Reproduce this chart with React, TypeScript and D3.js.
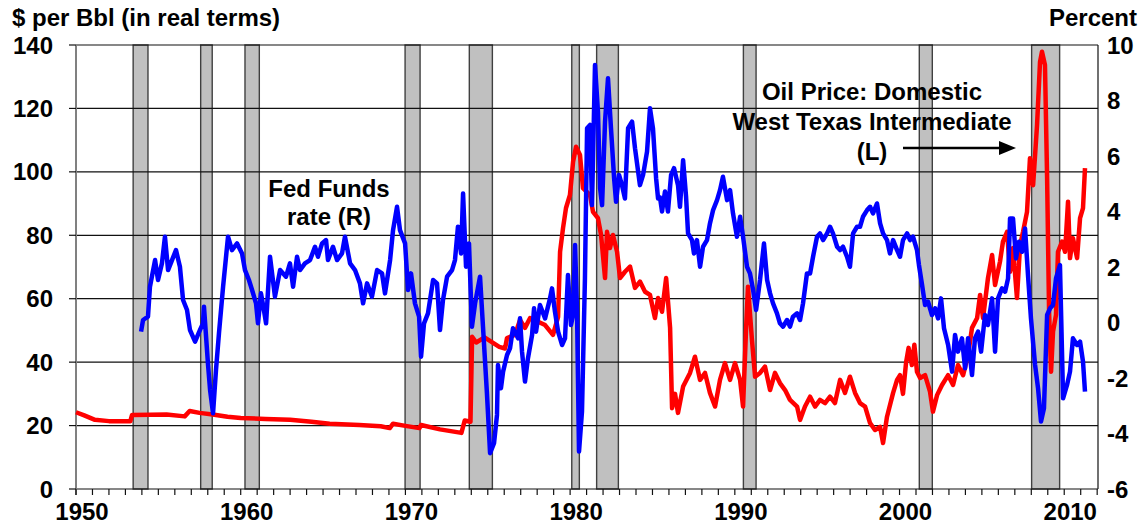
import React from 'react';
import * as d3 from 'd3';

// Recession periods (shaded bands), decimal years
const recessions: [number, number][] = [
  [1953.47, 1954.37], [1957.57, 1958.27], [1960.26, 1961.13], [1969.98, 1970.89],
  [1973.88, 1975.28], [1980.1, 1980.56], [1981.61, 1982.93], [1990.52, 1991.29],
  [2001.2, 2001.99], [2008.02, 2009.72],
];

// Oil price: Domestic West Texas Intermediate, $ per Bbl in real terms (left axis)
const oilPrice: [number, number][] = [
  [1950.0, 24.2], [1950.5, 23.2], [1951.15, 21.8], [1952.0, 21.4], [1953.3, 21.4], [1953.4, 23.3],
  [1954.5, 23.4], [1955.5, 23.5], [1956.6, 22.9], [1956.9, 24.6], [1957.5, 24.0], [1958.3, 23.5],
  [1959.2, 22.8], [1960.0, 22.4], [1961.5, 22.1], [1963.0, 21.8], [1964.3, 21.2], [1965.4, 20.6],
  [1967.2, 20.2], [1968.5, 19.8], [1969.05, 19.2], [1969.25, 20.6], [1970.0, 19.9], [1970.85, 19.2],
  [1970.95, 20.2], [1972.1, 18.8], [1973.4, 17.7], [1973.6, 21.6], [1973.95, 21.2], [1974.05, 48.0],
  [1974.3, 46.2], [1974.8, 47.8], [1975.7, 44.8], [1976.05, 44.3], [1976.17, 47.6], [1976.65, 48.6],
  [1976.96, 53.3], [1977.26, 50.8], [1977.57, 53.9], [1978.48, 51.7], [1978.96, 48.6], [1979.27, 54.3],
  [1979.39, 74.8], [1979.57, 82.3], [1979.75, 88.6], [1979.99, 92.7], [1980.18, 103.2], [1980.36, 107.9],
  [1980.6, 105.3], [1980.78, 94.9], [1981.21, 92.7], [1981.39, 87.4], [1981.69, 85.4], [1981.88, 80.1],
  [1982.12, 66.5], [1982.24, 81.1], [1982.42, 76.0], [1982.6, 80.1], [1982.85, 74.8], [1983.03, 66.5],
  [1983.33, 68.5], [1983.64, 70.1], [1983.94, 63.4], [1984.24, 65.4], [1984.55, 62.2], [1984.85, 61.2],
  [1985.15, 53.9], [1985.34, 60.2], [1985.58, 55.9], [1985.83, 66.5], [1986.07, 50.8], [1986.19, 25.5],
  [1986.37, 30.0], [1986.55, 24.0], [1986.86, 32.3], [1987.28, 36.6], [1987.58, 41.7], [1987.89, 34.4],
  [1988.19, 36.6], [1988.49, 30.3], [1988.8, 26.0], [1989.1, 34.4], [1989.4, 39.7], [1989.71, 34.4],
  [1990.01, 39.7], [1990.32, 34.4], [1990.5, 26.0], [1990.68, 50.1], [1990.8, 63.8], [1991.04, 47.0],
  [1991.23, 35.4], [1991.53, 36.6], [1991.83, 38.6], [1992.14, 31.2], [1992.44, 36.6], [1992.74, 33.4],
  [1993.05, 31.2], [1993.35, 28.1], [1993.78, 26.0], [1993.96, 21.8], [1994.26, 26.0], [1994.57, 29.1],
  [1994.87, 26.0], [1995.17, 28.1], [1995.48, 27.1], [1995.78, 29.1], [1996.08, 27.1], [1996.39, 34.4],
  [1996.69, 30.3], [1996.99, 35.4], [1997.3, 30.3], [1997.6, 27.1], [1997.91, 26.0], [1998.21, 20.8],
  [1998.51, 18.6], [1998.82, 19.6], [1999.0, 14.5], [1999.24, 22.8], [1999.61, 30.3], [1999.85, 34.4],
  [2000.03, 35.9], [2000.21, 30.0], [2000.4, 40.0], [2000.55, 44.5], [2000.75, 39.1], [2000.9, 45.5],
  [2001.06, 37.0], [2001.25, 35.0], [2001.55, 35.9], [2001.85, 30.7], [2002.03, 24.4], [2002.28, 29.6],
  [2002.58, 32.8], [2002.95, 35.9], [2003.25, 32.8], [2003.55, 39.1], [2003.86, 35.9], [2004.16, 42.2],
  [2004.4, 50.8], [2004.71, 53.9], [2004.89, 61.2], [2005.07, 53.9], [2005.37, 66.5], [2005.62, 73.8],
  [2005.8, 64.3], [2006.1, 71.7], [2006.28, 78.0], [2006.53, 81.1], [2006.71, 68.5], [2006.89, 76.0],
  [2007.13, 60.2], [2007.32, 76.9], [2007.5, 81.1], [2007.74, 87.4], [2007.92, 104.3], [2008.11, 95.8],
  [2008.35, 114.8], [2008.53, 134.7], [2008.65, 137.9], [2008.83, 133.7], [2008.96, 98.0], [2009.08, 55.9],
  [2009.2, 37.0], [2009.32, 49.6], [2009.5, 54.9], [2009.62, 74.8], [2009.87, 78.0], [2010.05, 74.8],
  [2010.23, 90.6], [2010.35, 72.8], [2010.53, 79.1], [2010.78, 72.8], [2010.96, 85.4], [2011.14, 88.6],
  [2011.26, 101.2],
];

// Fed Funds rate, percent (right axis)
const fedFunds: [number, number][] = [
  [1953.95, -0.33], [1954.07, 0.09], [1954.37, 0.21], [1954.49, 1.29], [1954.8, 2.25], [1954.98, 1.53],
  [1955.22, 2.14], [1955.4, 3.09], [1955.59, 1.89], [1955.83, 2.25], [1956.07, 2.61], [1956.31, 2.01],
  [1956.5, 0.81], [1956.74, 0.45], [1956.92, -0.27], [1957.23, -0.69], [1957.53, -0.27], [1957.71, -0.03],
  [1957.77, 0.57], [1958.01, -1.47], [1958.14, -2.43], [1958.32, -3.27], [1958.5, -1.71], [1958.68, -0.39],
  [1958.93, 1.29], [1959.23, 3.09], [1959.47, 2.61], [1959.78, 2.85], [1960.08, 2.49], [1960.26, 1.89],
  [1960.5, 1.53], [1960.69, 1.17], [1960.93, 0.69], [1961.05, -0.03], [1961.23, 1.05], [1961.41, 0.45],
  [1961.54, -0.03], [1961.78, 2.37], [1962.08, 0.93], [1962.39, 1.89], [1962.75, 1.65], [1962.99, 2.13],
  [1963.18, 1.29], [1963.42, 2.37], [1963.6, 1.89], [1963.9, 2.13], [1964.21, 2.25], [1964.51, 2.73],
  [1964.69, 2.37], [1964.94, 2.85], [1965.18, 2.97], [1965.3, 2.25], [1965.6, 2.73], [1965.85, 2.25],
  [1966.15, 2.49], [1966.33, 3.09], [1966.64, 2.13], [1966.94, 1.89], [1967.24, 1.41], [1967.43, 0.69],
  [1967.67, 1.41], [1967.97, 0.93], [1968.28, 1.89], [1968.58, 1.77], [1968.76, 1.05], [1969.07, 2.25],
  [1969.25, 3.33], [1969.49, 4.17], [1969.67, 3.33], [1969.98, 2.85], [1970.16, 1.17], [1970.34, 1.77],
  [1970.58, 0.69], [1970.83, 0.21], [1970.95, -1.23], [1971.13, -0.03], [1971.37, 0.33], [1971.68, 1.53],
  [1971.92, 1.41], [1972.1, -0.27], [1972.28, 0.81], [1972.53, 1.65], [1972.83, 1.89], [1973.01, 2.25],
  [1973.19, 3.45], [1973.38, 2.49], [1973.5, 4.65], [1973.68, 2.01], [1973.86, 2.85], [1974.04, -0.15],
  [1974.23, 0.69], [1974.53, 1.65], [1974.71, -0.15], [1974.95, -2.55], [1975.14, -4.71], [1975.38, -4.35],
  [1975.56, -3.33], [1975.62, -1.53], [1975.8, -2.37], [1975.93, -1.77], [1976.17, -1.17], [1976.35, -0.93],
  [1976.53, -0.21], [1976.84, -0.57], [1976.96, 0.15], [1977.08, -1.05], [1977.26, -2.13], [1977.44, -1.29],
  [1977.69, -0.45], [1977.81, 0.51], [1977.93, -0.33], [1978.17, 0.63], [1978.48, 0.15], [1978.78, 0.87],
  [1978.9, 1.23], [1979.08, 0.39], [1979.27, -0.33], [1979.51, -0.81], [1979.69, -0.57], [1979.87, 1.71],
  [1980.05, -0.09], [1980.18, 0.27], [1980.3, 2.79], [1980.42, 0.39], [1980.54, -4.65], [1980.72, -3.21],
  [1980.9, 1.59], [1981.03, 7.0], [1981.21, 7.12], [1981.33, 4.23], [1981.51, 9.28], [1981.69, 7.6],
  [1981.82, 4.84], [1981.94, 4.23], [1982.12, 7.24], [1982.3, 8.8], [1982.48, 7.0], [1982.67, 5.2],
  [1982.79, 4.35], [1982.97, 5.32], [1983.15, 4.95], [1983.33, 4.47], [1983.52, 7.0], [1983.76, 7.24],
  [1983.94, 6.28], [1984.24, 4.95], [1984.43, 5.32], [1984.67, 6.16], [1984.85, 7.72], [1985.03, 7.0],
  [1985.22, 5.2], [1985.34, 4.47], [1985.46, 4.5], [1985.58, 4.0], [1985.76, 4.72], [1985.94, 4.0],
  [1986.13, 5.32], [1986.31, 5.56], [1986.55, 4.95], [1986.67, 4.17], [1986.86, 5.85], [1987.04, 4.53],
  [1987.16, 3.21], [1987.4, 2.97], [1987.52, 2.49], [1987.7, 2.97], [1987.89, 2.01], [1988.07, 2.73],
  [1988.31, 2.97], [1988.49, 3.57], [1988.68, 4.05], [1988.92, 4.41], [1989.1, 4.77], [1989.28, 5.25],
  [1989.53, 4.41], [1989.71, 4.77], [1989.89, 3.93], [1990.13, 3.09], [1990.32, 3.81], [1990.5, 3.09],
  [1990.74, 2.01], [1990.92, 1.77], [1991.11, 1.17], [1991.29, 0.45], [1991.53, 1.53], [1991.77, 2.85],
  [1991.96, 1.53], [1992.14, 1.05], [1992.32, 0.69], [1992.56, 0.33], [1992.74, -0.03], [1992.93, -0.15],
  [1993.17, 0.09], [1993.35, -0.15], [1993.53, 0.21], [1993.78, 0.33], [1993.96, 0.09], [1994.14, 0.69],
  [1994.38, 1.77], [1994.57, 1.77], [1994.75, 2.37], [1994.99, 3.09], [1995.17, 3.21], [1995.36, 2.97],
  [1995.6, 3.21], [1995.78, 3.45], [1995.96, 3.21], [1996.21, 2.73], [1996.39, 2.61], [1996.57, 2.73],
  [1996.81, 2.37], [1996.99, 2.01], [1997.18, 3.21], [1997.42, 3.45], [1997.6, 3.45], [1997.78, 3.81],
  [1998.03, 4.05], [1998.21, 4.17], [1998.39, 3.93], [1998.63, 4.29], [1998.82, 3.57], [1999.0, 3.21],
  [1999.24, 2.97], [1999.42, 2.49], [1999.61, 2.97], [1999.85, 2.61], [2000.03, 2.37], [2000.21, 2.97],
  [2000.46, 3.21], [2000.64, 2.97], [2000.82, 3.09], [2001.06, 2.61], [2001.18, 2.07], [2001.37, 1.35],
  [2001.55, 0.63], [2001.73, 0.75], [2001.97, 0.27], [2002.16, 0.51], [2002.34, 0.15], [2002.52, 0.87],
  [2002.7, -0.21], [2002.95, -0.81], [2003.19, -1.77], [2003.37, -0.45], [2003.55, -1.05], [2003.79, -0.57],
  [2003.98, -1.65], [2004.16, -0.57], [2004.4, -1.89], [2004.58, -0.57], [2004.77, -0.33], [2004.95, -1.05],
  [2005.19, 0.27], [2005.37, -0.09], [2005.62, 0.87], [2005.8, -1.05], [2005.98, 0.87], [2006.22, 1.23],
  [2006.41, 1.11], [2006.59, 1.59], [2006.71, 3.75], [2006.89, 3.75], [2007.07, 2.31], [2007.25, 2.91],
  [2007.44, 2.55], [2007.62, 3.39], [2007.8, 1.71], [2007.98, 0.15], [2008.23, -1.53], [2008.41, -2.37],
  [2008.59, -3.57], [2008.77, -3.09], [2008.96, 0.27], [2009.14, 0.51], [2009.32, 0.63], [2009.5, 1.59],
  [2009.74, 2.07], [2009.93, -2.73], [2010.17, -2.25], [2010.35, -1.77], [2010.53, -0.57], [2010.78, -0.81],
  [2010.96, -0.69], [2011.14, -1.41], [2011.26, -2.49],
];

const leftTicks = [0, 20, 40, 60, 80, 100, 120, 140];
const rightTicks = [-6, -4, -2, 0, 2, 4, 6, 8, 10];
const yearLabels = [1950, 1960, 1970, 1980, 1990, 2000, 2010];

const W = 1142;
const H = 525;
const left = 76;
const right = 1098;
const top = 45;
const bottom = 489;
const FONT = '"Liberation Sans", Arial, Helvetica, sans-serif';

export default function App() {
  const x = d3.scaleLinear().domain([1950, 2012.05]).range([left, right]);
  const yL = d3.scaleLinear().domain([0, 140]).range([bottom, top]);
  const yR = d3.scaleLinear().domain([-6, 10]).range([bottom, top]);

  const oilLine = d3.line<[number, number]>().x((d) => x(d[0])).y((d) => yL(d[1]));
  const fedLine = d3.line<[number, number]>().x((d) => x(d[0])).y((d) => yR(d[1]));

  const yearTicks = d3.range(1950, 2013);

  return (
    <svg width={W} height={H} style={{ position: 'absolute', left: 0, top: 0, background: '#fff' }}
      fontFamily={FONT} fontWeight="bold">
      <rect x={0} y={0} width={W} height={H} fill="#fff" />
      {/* recession bands */}
      {recessions.map(([a, b], i) => (
        <rect key={'r' + i} x={x(a)} y={top} width={x(b) - x(a)} height={bottom - top}
          fill="#C0C0C0" stroke="#404040" strokeWidth={1.4} />
      ))}
      {/* gridlines */}
      {leftTicks.map((v) => (
        <line key={'g' + v} x1={left} x2={right} y1={yL(v)} y2={yL(v)} stroke="#111" strokeWidth={1.2} />
      ))}
      {/* right border */}
      <line x1={right} x2={right} y1={top} y2={bottom} stroke="#111" strokeWidth={1.2} />
      {/* left axis */}
      <line x1={left} x2={left} y1={top} y2={bottom + 6} stroke="#808080" strokeWidth={2} />
      {leftTicks.map((v) => (
        <line key={'lt' + v} x1={left - 7} x2={left} y1={yL(v)} y2={yL(v)} stroke="#111" strokeWidth={1.2} />
      ))}
      {/* x axis ticks */}
      {yearTicks.map((yr) => (
        <line key={'xt' + yr} x1={x(yr)} x2={x(yr)} y1={bottom} y2={bottom + 6} stroke="#111" strokeWidth={1.2} />
      ))}
      {/* series */}
      <path d={oilLine(oilPrice) || ''} fill="none" stroke="#FF0000" strokeWidth={4.5} strokeLinejoin="round" />
      <path d={fedLine(fedFunds) || ''} fill="none" stroke="#0000FF" strokeWidth={4.5} strokeLinejoin="round" />

      {/* left tick labels */}
      {leftTicks.map((v) => (
        <text key={'ll' + v} x={53} y={yL(v) + 8.5} textAnchor="end" fontSize={24}>{v}</text>
      ))}
      {/* right tick labels */}
      {rightTicks.map((v) => (
        <text key={'rl' + v} x={1107} y={yR(v) + 8.5} textAnchor="start" fontSize={24}>{v}</text>
      ))}
      {/* x labels */}
      {yearLabels.map((yr) => (
        <text key={'xl' + yr} x={x(yr) + 6} y={520} textAnchor="middle" fontSize={24}>{yr}</text>
      ))}

      {/* axis titles */}
      <text x={12} y={26} fontSize={24}>$ per Bbl (in real terms)</text>
      <text x={1137} y={26} fontSize={24} textAnchor="end">Percent</text>

      {/* annotations */}
      <text x={329} y={197} fontSize={24} textAnchor="middle">Fed Funds</text>
      <text x={329} y={225} fontSize={24} textAnchor="middle">rate (R)</text>

      <text x={872} y={100} fontSize={24} textAnchor="middle">Oil Price: Domestic</text>
      <text x={872} y={130} fontSize={24} textAnchor="middle">West Texas Intermediate</text>
      <text x={872} y={160} fontSize={24} textAnchor="middle">(L)</text>
      <line x1={903} x2={1002} y1={148} y2={148} stroke="#000" strokeWidth={2.5} />
      <path d="M1016,148 L999,141 L999,155 Z" fill="#000" />
    </svg>
  );
}
